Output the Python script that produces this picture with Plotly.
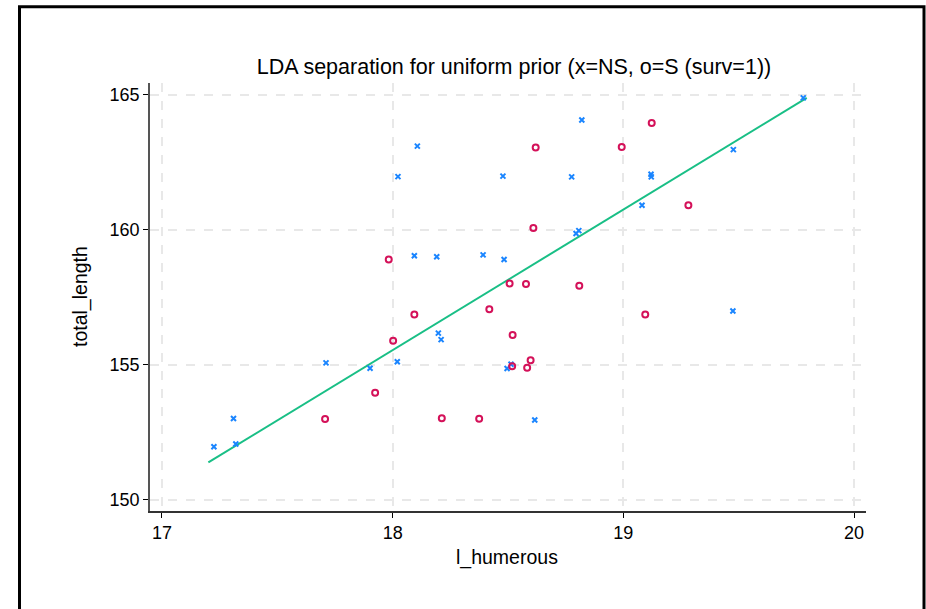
import plotly.graph_objects as go

# Non-survivors (x = NS)
ns_humerus = [18.107, 18.023, 18.478, 18.776, 18.820, 18.795, 18.807, 18.094, 18.191, 18.392,
              18.483, 19.780, 19.477, 19.120, 19.121, 19.081, 17.711, 17.902, 17.310, 17.225,
              17.320, 18.198, 18.210, 18.020, 18.513, 18.496, 18.616, 19.475]
ns_length = [163.10, 161.97, 161.99, 161.96, 164.07, 159.86, 159.97, 159.04, 159.00, 159.07,
             158.90, 164.89, 162.97, 162.06, 161.96, 160.91, 155.07, 154.87, 153.01, 151.96,
             152.06, 156.17, 155.93, 155.11, 155.02, 154.86, 152.95, 156.99]

# Survivors (o = S)
s_humerus = [18.620, 18.993, 18.610, 17.983, 18.507, 18.578, 18.809, 19.123, 19.282, 17.924,
             17.707, 18.094, 18.002, 18.419, 18.520, 18.518, 18.598, 18.583, 18.213, 18.375,
             19.095]
s_length = [163.05, 163.07, 160.07, 158.90, 158.01, 157.99, 157.93, 163.96, 160.91, 153.96,
            152.99, 156.86, 155.89, 157.06, 156.10, 154.94, 155.17, 154.89, 153.02, 153.00,
            156.86]

# LDA separation line
line_x = [17.201, 19.795]
line_y = [151.38, 164.89]

x_ticks = [17, 18, 19, 20]
y_ticks = [150, 155, 160, 165]

FONT = "Liberation Sans, Arial, Helvetica, sans-serif"

fig = go.Figure()
fig.add_trace(go.Scatter(x=line_x, y=line_y, mode="lines",
                         line=dict(color="#19bf86", width=2), showlegend=False))
fig.add_trace(go.Scatter(x=ns_humerus, y=ns_length, mode="markers",
                         marker=dict(symbol="x-thin", size=5, color="#1a85ff",
                                     line=dict(color="#1a85ff", width=2)),
                         showlegend=False))
fig.add_trace(go.Scatter(x=s_humerus, y=s_length, mode="markers",
                         marker=dict(symbol="circle-open", size=6, color="#d41159",
                                     line=dict(color="#d41159", width=2)),
                         showlegend=False))

fig.update_layout(
    width=926, height=609,
    margin=dict(l=150, r=60, t=83, b=98),
    paper_bgcolor="white", plot_bgcolor="white",
    font=dict(family=FONT, size=18, color="black"),
    title=dict(text="LDA separation for uniform prior (x=NS, o=S (surv=1))",
               x=(514 - 150) / 716, xref="paper", xanchor="center",
               y=1 - 66 / 609, yanchor="middle",
               font=dict(family=FONT, size=21.5, color="black")),
    xaxis=dict(range=[16.948, 20.052], tickvals=x_ticks, showline=True,
               linecolor="#333333", linewidth=1.5, ticks="outside", ticklen=5,
               tickcolor="black", tickwidth=1.2, showgrid=True, gridcolor="#e8e8e8",
               griddash="dash", gridwidth=1.5, zeroline=False,
               tickfont=dict(size=18)),
    yaxis=dict(range=[149.58, 165.44], tickvals=y_ticks, showline=True,
               linecolor="#555555", linewidth=1.5, ticks="outside", ticklen=5,
               tickcolor="black", tickwidth=1.2, showgrid=True, gridcolor="#e8e8e8",
               griddash="dash", gridwidth=1.5, zeroline=False,
               tickfont=dict(size=18)),
    annotations=[
        dict(text="l_humerous", xref="paper", yref="paper",
             x=(507 - 150) / 716, y=(510.7 - 557) / 428,
             xanchor="center", yanchor="middle", showarrow=False,
             font=dict(family=FONT, size=19.5)),
        dict(text="total_length", xref="paper", yref="paper",
             x=(80 - 150) / 716, y=0.5, textangle=-90,
             xanchor="center", yanchor="middle", showarrow=False,
             font=dict(family=FONT, size=19.5)),
    ],
    shapes=[
        dict(type="rect", xref="paper", yref="paper",
             x0=(19.5 - 150) / 716, x1=(924 - 150) / 716,
             y0=(510.7 - 660) / 428, y1=(510.7 - 6.5) / 428,
             line=dict(color="black", width=3), fillcolor="rgba(0,0,0,0)",
             layer="above"),
    ],
)

fig.write_html("out.html")
